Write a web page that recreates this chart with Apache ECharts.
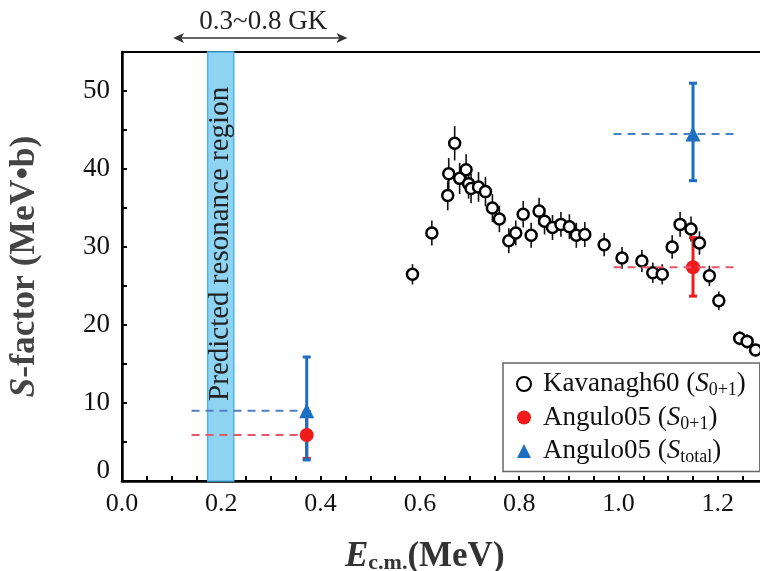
<!DOCTYPE html>
<html><head><meta charset="utf-8">
<script src="https://cdn.jsdelivr.net/npm/echarts@6/dist/echarts.min.js"></script>
<style>html,body{margin:0;padding:0;background:#fff}#c{width:760px;height:571px}</style>
</head><body><div id="c"></div>
<script>
// Kavanagh60 (S0+1)
const kavE = [0.585,0.624,0.656,0.658,0.670,0.680,0.693,0.698,0.703,0.718,0.732,0.746,0.760,0.779,0.793,0.808,0.824,0.840,0.851,0.867,0.884,0.901,0.915,0.932,0.971,1.007,1.047,1.069,1.088,1.108,1.124,1.146,1.163,1.183,1.202,1.244,1.259,1.276];
const kavS = [26.5,31.8,36.6,39.4,43.3,38.8,39.9,38.1,37.5,37.7,37.1,35.0,33.6,30.8,31.8,34.2,31.5,34.6,33.3,32.5,32.9,32.6,31.5,31.6,30.3,28.6,28.2,26.7,26.5,30.0,32.9,32.3,30.5,26.3,23.1,18.3,17.9,16.8];
const kavErr = [1.3,1.6,1.9,2.0,2.2,2.0,2.0,1.9,1.9,1.9,1.9,1.8,1.7,1.6,1.6,1.7,1.6,1.7,1.7,1.6,1.6,1.6,1.6,1.6,1.5,1.4,1.4,1.3,1.3,1.5,1.6,1.6,1.5,1.3,1.2,0.9,0.9,0.8];
// Angulo05
const angE = [0.372, 1.150];
const angS01 = [5.9, 27.4];
const angS01Lo = [2.9, 23.7];
const angS01Hi = [8.9, 31.2];
const angStot = [9.0, 44.5];
const angStotLo = [2.7, 38.5];
const angStotHi = [15.9, 51.0];
const refStart = [0.14, 0.99];
const refEnd = [0.36, 1.235];
// annotations
const bandRange = [0.1725, 0.225];
const bandText = 'Predicted resonance region';
const gamowRange = [0.103, 0.454];
const gamowText = '0.3~0.8 GK';
const xLabelStep = 0.2, yLabelStep = 10;

const FONT = '"Liberation Serif", "Times New Roman", serif';
const RED = '#f01c1c', BLUE = '#1a6fc2', DRED = '#e2586c', DBLUE = '#4f80bd';

function errRender(color, width, cap) {
  return function (params, api) {
    const x = api.value(0), lo = api.value(1), hi = api.value(2);
    const a = api.coord([x, lo]), b = api.coord([x, hi]);
    const ch = [{type: 'line', shape: {x1: a[0], y1: a[1], x2: b[0], y2: b[1]}, style: {stroke: color, lineWidth: width}}];
    if (cap) {
      ch.push({type: 'line', shape: {x1: a[0] - cap, y1: a[1], x2: a[0] + cap, y2: a[1]}, style: {stroke: color, lineWidth: width}});
      ch.push({type: 'line', shape: {x1: b[0] - cap, y1: b[1], x2: b[0] + cap, y2: b[1]}, style: {stroke: color, lineWidth: width}});
    }
    return {type: 'group', children: ch};
  };
}

const chart = echarts.init(document.getElementById('c'));
const legendNames = {
  'Kavanagh60': 'Kavanagh60 ({i|S}{s|0+1})',
  'Angulo05 S0+1': 'Angulo05 ({i|S}{s|0+1})',
  'Angulo05 Stotal': 'Angulo05 ({i|S}{s|total})'
};
const isMult = (v, step) => Math.abs(v / step - Math.round(v / step)) < 1e-6;

const series = [
  {type: 'line', data: [], markArea: {silent: true, itemStyle: {color: '#8fd3f3', borderColor: '#4db4e6', borderWidth: 1.5},
     data: [[{xAxis: bandRange[0], yAxis: 0}, {xAxis: bandRange[1], yAxis: 55}]]}},
];
for (let i = 0; i < angE.length; i++) {
  series.push({type: 'line', symbol: 'none', silent: true, data: [[refStart[i], angStot[i]], [refEnd[i], angStot[i]]],
    lineStyle: {color: DBLUE, width: 2, type: [8, 6]}});
  series.push({type: 'line', symbol: 'none', silent: true, data: [[refStart[i], angS01[i]], [refEnd[i], angS01[i]]],
    lineStyle: {color: DRED, width: 2, type: [8, 6]}});
}
series.push(
  {type: 'custom', renderItem: errRender('#111', 1.6, 0), encode: {x: 0, y: [1, 2]},
   data: kavE.map((e, i) => [e, kavS[i] - kavErr[i], kavS[i] + kavErr[i]])},
  {name: 'Kavanagh60', type: 'scatter', symbol: 'circle', symbolSize: 11,
   itemStyle: {color: '#fff', borderColor: '#000', borderWidth: 2.5, opacity: 1},
   data: kavE.map((e, i) => [e, kavS[i]])},
  {type: 'custom', renderItem: errRender(RED, 3, 4), encode: {x: 0, y: [1, 2]},
   data: angE.map((e, i) => [e, angS01Lo[i], angS01Hi[i]])},
  {type: 'custom', renderItem: errRender(BLUE, 3, 4), encode: {x: 0, y: [1, 2]},
   data: angE.map((e, i) => [e, angStotLo[i], angStotHi[i]])},
  {name: 'Angulo05 S0+1', type: 'scatter', symbol: 'circle', symbolSize: 14, itemStyle: {color: RED, opacity: 1},
   data: angE.map((e, i) => [e, angS01[i]])},
  {name: 'Angulo05 Stotal', type: 'scatter', symbol: 'triangle', symbolSize: 15, itemStyle: {color: BLUE, opacity: 1},
   data: angE.map((e, i) => [e, angStot[i]])}
);

chart.setOption({
  animation: false,
  grid: {left: 122, top: 52, right: -7.5, bottom: 90, show: true, borderColor: '#000', borderWidth: 2, backgroundColor: 'transparent',
         containLabel: false, outerBoundsMode: 'none'},
  xAxis: {
    type: 'value', min: 0, max: 1.3, interval: 0.05,
    axisLine: {lineStyle: {color: '#000', width: 2.5}},
    axisTick: {inside: true, length: 5, lineStyle: {color: '#000', width: 2}},
    axisLabel: {interval: 0, showMaxLabel: false, margin: 10, color: '#111', fontFamily: FONT, fontSize: 26,
      formatter: v => isMult(v, xLabelStep) ? v.toFixed(1) : ''},
    splitLine: {show: false},
    name: '{e|E}{s|c.m.}{n|(MeV)}', nameLocation: 'middle', nameGap: 58,
    nameTextStyle: {padding: [0, 40, 0, 0], rich: {
      e: {fontFamily: FONT, fontSize: 35, fontWeight: 'bold', fontStyle: 'italic', color: '#333'},
      s: {fontFamily: FONT, fontSize: 22, fontWeight: 'bold', color: '#333', padding: [13, 0, 0, 0]},
      n: {fontFamily: FONT, fontSize: 35, fontWeight: 'bold', color: '#333'}}}
  },
  yAxis: {
    type: 'value', min: 0, max: 55, interval: 5,
    axisLine: {lineStyle: {color: '#000', width: 2.5}},
    axisTick: {inside: true, length: 5, lineStyle: {color: '#000', width: 2}},
    axisLabel: {interval: 0, showMaxLabel: false, margin: 12, color: '#111', fontFamily: FONT, fontSize: 27,
      formatter: v => v === 0 ? '{z|0}' : (isMult(v, yLabelStep) ? String(v) : ''),
      rich: {z: {fontFamily: FONT, fontSize: 27, color: '#111', padding: [0, 0, 20, 0]}}},
    splitLine: {show: false},
    name: '{i|S}{n|-factor (MeV•b)}', nameLocation: 'middle', nameGap: 79, nameRotate: 90,
    nameTextStyle: {rich: {
      i: {fontFamily: FONT, fontSize: 35.5, fontWeight: 'bold', fontStyle: 'italic', color: '#444'},
      n: {fontFamily: FONT, fontSize: 35.5, fontWeight: 'bold', color: '#444'}}}
  },
  legend: {
    orient: 'vertical', left: 503, top: 363, padding: [6, 14, 5, 13], itemGap: 3,
    itemWidth: 14, itemHeight: 14, symbolKeepAspect: true,
    borderColor: '#666', borderWidth: 1.5, backgroundColor: '#fff',
    data: ['Kavanagh60', 'Angulo05 S0+1', 'Angulo05 Stotal'],
    formatter: n => legendNames[n],
    textStyle: {fontFamily: FONT, fontSize: 27, color: '#111', lineHeight: 30, padding: [0, 0, 0, 7], rich: {
      i: {fontFamily: FONT, fontSize: 27, fontStyle: 'italic', color: '#111'},
      s: {fontFamily: FONT, fontSize: 18, color: '#111', padding: [13, 0, 0, 0]}}}
  },
  series: series
});

const P = (x, y) => chart.convertToPixel({gridIndex: 0}, [x, y]);
const a1 = P(gamowRange[0], 56.8), a2 = P(gamowRange[1], 56.8);
const tC = P((gamowRange[0] + gamowRange[1]) / 2 + 0.006, 58.8);
const bC = P((bandRange[0] + bandRange[1]) / 2, 30.4);
const AC = '#333';
chart.setOption({graphic: [
  {type: 'line', z: 100, shape: {x1: a1[0] + 6, y1: a1[1], x2: a2[0] - 6, y2: a2[1]}, style: {stroke: AC, lineWidth: 1.6}},
  {type: 'polygon', z: 100, shape: {points: [[a1[0], a1[1]], [a1[0] + 11, a1[1] - 5], [a1[0] + 8, a1[1]], [a1[0] + 11, a1[1] + 5]]}, style: {fill: AC}},
  {type: 'polygon', z: 100, shape: {points: [[a2[0], a2[1]], [a2[0] - 11, a2[1] - 5], [a2[0] - 8, a2[1]], [a2[0] - 11, a2[1] + 5]]}, style: {fill: AC}},
  {type: 'text', z: 100, x: tC[0], y: tC[1], style: {text: gamowText, font: '27px ' + FONT, fill: '#222', align: 'center', verticalAlign: 'middle'}},
  {type: 'text', z: 100, x: bC[0], y: bC[1], rotation: Math.PI / 2, style: {text: bandText, font: '29px ' + FONT, fill: '#222', align: 'center', verticalAlign: 'middle'}}
]});
</script></body></html>
